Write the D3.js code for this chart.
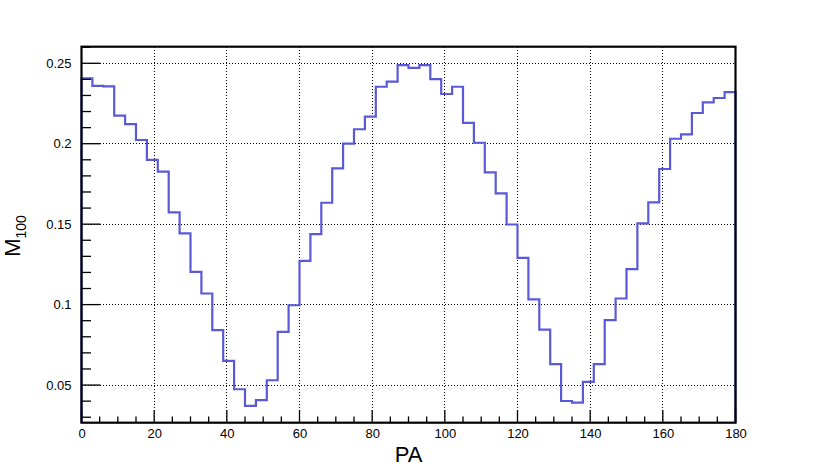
<!DOCTYPE html>
<html>
<head>
<meta charset="utf-8">
<script src="https://cdn.jsdelivr.net/npm/d3@7/dist/d3.min.js"></script>
<style>
  html, body { margin: 0; padding: 0; background: #fff; }
  svg { display: block; }
  text { font-family: "Liberation Sans", Arial, Helvetica, sans-serif; fill: #000; }
</style>
</head>
<body>
<svg id="chart" width="817" height="470"></svg>
<script>
// ---- data ----
const binWidth = 3;
const binStarts = [0,3,6,9,12,15,18,21,24,27,30,33,36,39,42,45,48,51,54,57,
                   60,63,66,69,72,75,78,81,84,87,90,93,96,99,102,105,108,111,114,117,
                   120,123,126,129,132,135,138,141,144,147,150,153,156,159,162,165,168,171,174,177];
const m100 = [0.2407,0.2359,0.2357,0.2174,0.2122,0.2023,0.1899,0.1826,0.1573,0.1443,
              0.1204,0.1069,0.0841,0.0650,0.0474,0.0370,0.0406,0.0530,0.0831,0.0996,
              0.1272,0.1438,0.1633,0.1847,0.2000,0.2090,0.2168,0.2354,0.2386,0.2489,
              0.2471,0.2489,0.2402,0.2309,0.2354,0.2130,0.2006,0.1822,0.1691,0.1498,
              0.1291,0.1032,0.0845,0.0630,0.0401,0.0391,0.0520,0.0630,0.0903,0.1038,
              0.1220,0.1505,0.1635,0.1843,0.2031,0.2058,0.2191,0.2257,0.2284,0.2321];
const xMajorTicks = [0,20,40,60,80,100,120,140,160,180];
const xTickLabels = ["0","20","40","60","80","100","120","140","160","180"];
const yMajorTicks = [0.05,0.1,0.15,0.2,0.25];
const yTickLabels = ["0.05","0.1","0.15","0.2","0.25"];
const xDomain = [0, 180];
const yDomain = [0.0266, 0.2603];

// ---- layout ----
const svg = d3.select("#chart");
const L = 81.5, R = 735.5, T = 46.7, B = 422.7;
const x = d3.scaleLinear().domain(xDomain).range([L, R]);
const y = d3.scaleLinear().domain(yDomain).range([B, T]);
const snap = v => Math.round(v - 0.5) + 0.5;

// grid
const grid = svg.append("g").attr("stroke", "#000").attr("stroke-width", 1)
  .attr("stroke-dasharray", "1,2").attr("fill", "none").attr("shape-rendering", "crispEdges");
xMajorTicks.filter(d => d > xDomain[0] && d < xDomain[1]).forEach(d => {
  grid.append("line").attr("x1", snap(x(d))).attr("x2", snap(x(d))).attr("y1", B).attr("y2", T);
});
yMajorTicks.forEach(d => {
  grid.append("line").attr("x1", L).attr("x2", R).attr("y1", snap(y(d))).attr("y2", snap(y(d)));
});

// histogram outline
const pts = [[xDomain[0], yDomain[0]]];
binStarts.forEach((s, i) => {
  pts.push([s, m100[i]]);
  pts.push([s + binWidth, m100[i]]);
});
pts.push([xDomain[1], yDomain[0]]);
const line = d3.line().x(d => x(d[0])).y(d => y(d[1]));
svg.append("path").attr("d", line(pts)).attr("fill", "none")
  .attr("stroke", "#5a5ad9").attr("stroke-width", 2.2).attr("stroke-linejoin", "miter");

// axes
const xMinor = d3.range(0, 181, 5);
const yMinor = d3.range(0.03, 0.2601, 0.01);

const xAxisMajor = d3.axisBottom(x).tickValues(xMajorTicks).tickSize(0).tickFormat((d, i) => xTickLabels[i]).tickPadding(6);
const gx = svg.append("g").attr("transform", `translate(0,${B})`).call(xAxisMajor);
gx.select(".domain").remove();
gx.selectAll("text").attr("font-size", 13).attr("font-family", "Liberation Sans, Arial, sans-serif");

const xt = svg.append("g").attr("stroke", "#000").attr("stroke-width", 1.3);
xMinor.forEach(d => {
  const major = d % 20 === 0;
  xt.append("line").attr("x1", x(d)).attr("x2", x(d)).attr("y1", B).attr("y2", B - (major ? 12.7 : 6.3));
});

const yAxisMajor = d3.axisLeft(y).tickValues(yMajorTicks).tickSize(0).tickFormat((d, i) => yTickLabels[i]).tickPadding(10);
const gy = svg.append("g").attr("transform", `translate(${L},0)`).call(yAxisMajor);
gy.select(".domain").remove();
gy.selectAll("text").attr("font-size", 13).attr("font-family", "Liberation Sans, Arial, sans-serif");

const yt = svg.append("g").attr("stroke", "#000").attr("stroke-width", 1.3);
yMinor.forEach(d => {
  const major = Math.abs(Math.round(d * 100) % 5) === 0;
  yt.append("line").attr("x1", L).attr("x2", L + (major ? 19 : 9.5)).attr("y1", y(d)).attr("y2", y(d));
});

// frame
svg.append("rect").attr("x", L).attr("y", T).attr("width", R - L).attr("height", B - T)
  .attr("fill", "none").attr("stroke", "#000").attr("stroke-width", 2.2);

// titles
svg.append("text").attr("x", (L + R) / 2).attr("y", 461.5).attr("text-anchor", "middle")
  .attr("font-size", 22).text("PA");

const yl = svg.append("text").attr("transform", `translate(20,236) rotate(-90)`)
  .attr("text-anchor", "middle").attr("font-size", 22);
yl.append("tspan").text("M");
yl.append("tspan").attr("font-size", 14).attr("dy", 6).text("100");
</script>
</body>
</html>
